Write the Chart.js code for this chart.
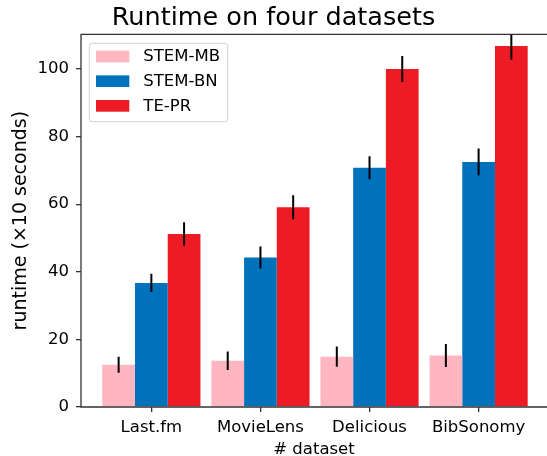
<!DOCTYPE html>
<html>
<head>
<meta charset="utf-8">
<script src="https://cdn.jsdelivr.net/npm/chart.js@4"></script>
<style>
  html, body { margin: 0; padding: 0; background: #fff; overflow: hidden; }
  canvas { display: block; }
</style>
</head>
<body>
<canvas id="runtimeChart" width="547" height="456"></canvas>
<script>
// data (runtime in units of 10 seconds)
const datasetNames = ['Last.fm', 'MovieLens', 'Delicious', 'BibSonomy'];
const seriesNames = ['STEM-MB', 'STEM-BN', 'TE-PR'];
const stemMB = [12.5, 13.7, 14.9, 15.2];
const stemBN = [36.7, 44.2, 70.8, 72.5];
const tePR = [51.2, 59.1, 100.0, 106.8];
const stemMBErr = [2.4, 2.75, 3.0, 3.4];
const stemBNErr = [2.7, 3.25, 3.4, 4.0];
const tePRErr = [3.45, 3.55, 3.85, 4.1];
const yTicks = [0, 20, 40, 60, 80, 100];

const seriesColors = ['#FFB6C1', '#0071BB', '#ED1C24'];
const FONT = "'DejaVu Sans', sans-serif";
const AXIS_COLOR = '#333';

const toPoints = (vals) => vals.map((v, i) => ({ x: i, y: v }));

// error bars drawn from each bar element, clipped to the plot box
const errorBarPlugin = {
    id: 'errorBars',
    afterDatasetsDraw(chart) {
        const errs = [stemMBErr, stemBNErr, tePRErr];
        const yScale = chart.scales.y;
        const area = chart.chartArea;
        const ctx = chart.ctx;
        ctx.save();
        ctx.beginPath();
        ctx.rect(area.left, area.top, area.right - area.left, area.bottom - area.top);
        ctx.clip();
        ctx.strokeStyle = '#000';
        ctx.lineWidth = 2;
        chart.data.datasets.forEach((ds, di) => {
            const meta = chart.getDatasetMeta(di);
            meta.data.forEach((bar, i) => {
                const v = ds.data[i].y;
                const e = errs[di][i];
                ctx.beginPath();
                ctx.moveTo(bar.x, yScale.getPixelForValue(v + e));
                ctx.lineTo(bar.x, yScale.getPixelForValue(v - e));
                ctx.stroke();
            });
        });
        ctx.restore();
    }
};

// spines (the right one falls just outside the picture) + legend box
const frameLegendPlugin = {
    id: 'frameLegend',
    afterDraw(chart) {
        const ctx = chart.ctx;
        const a = chart.chartArea;
        ctx.save();
        ctx.strokeStyle = AXIS_COLOR;
        ctx.lineWidth = 1.3;
        ctx.beginPath();
        ctx.moveTo(chart.width, a.top);
        ctx.lineTo(a.left, a.top);
        ctx.lineTo(a.left, a.bottom);
        ctx.lineTo(chart.width, a.bottom);
        ctx.stroke();

        // legend
        const lx = a.left + 8.3, ly = a.top + 9, lw = 138.4, lh = 78.4;
        ctx.beginPath();
        ctx.roundRect(lx, ly, lw, lh, 3);
        ctx.fillStyle = 'rgba(255,255,255,0.8)';
        ctx.fill();
        ctx.strokeStyle = '#d0d0d0';
        ctx.lineWidth = 1;
        ctx.stroke();

        ctx.font = '16.5px ' + FONT;
        ctx.textBaseline = 'middle';
        ctx.textAlign = 'left';
        chart.data.datasets.forEach((ds, i) => {
            const cy = ly + 13.2 + i * 24.65;
            ctx.fillStyle = ds.backgroundColor;
            ctx.fillRect(lx + 6.7, cy - 5.8, 33.3, 11.7);
            ctx.fillStyle = '#000';
            ctx.fillText(ds.label, lx + 54, cy + 0.5);
        });
        ctx.restore();
    }
};

const ctx = document.getElementById('runtimeChart').getContext('2d');
new Chart(ctx, {
    type: 'bar',
    data: {
        datasets: [
            { label: seriesNames[0], data: toPoints(stemMB), backgroundColor: seriesColors[0] },
            { label: seriesNames[1], data: toPoints(stemBN), backgroundColor: seriesColors[1] },
            { label: seriesNames[2], data: toPoints(tePR), backgroundColor: seriesColors[2] }
        ]
    },
    options: {
        responsive: false,
        animation: false,
        categoryPercentage: 0.9,
        barPercentage: 1.0,
        layout: { padding: { left: 0, right: 0, top: 0, bottom: 0 } },
        plugins: {
            legend: { display: false },
            tooltip: { enabled: false },
            title: {
                display: true,
                text: 'Runtime on four datasets',
                color: '#000',
                font: { family: FONT, size: 25.5, weight: 'normal', lineHeight: 1.2 },
                padding: { top: 3.5, bottom: 0.2 }
            }
        },
        scales: {
            x: {
                type: 'linear',
                min: -0.645,
                max: 3.627,
                offset: false,
                afterFit: (scale) => { scale.height = 49; },
                afterBuildTicks: (scale) => {
                    scale.ticks = datasetNames.map((_, i) => ({ value: i }));
                },
                grid: { display: true, offset: false, drawOnChartArea: false, drawTicks: true, tickLength: 5, color: AXIS_COLOR, lineWidth: 1.3 },
                border: { display: false },
                ticks: {
                    autoSkip: false,
                    maxRotation: 0,
                    padding: 6,
                    color: '#000',
                    font: { family: FONT, size: 16.5 },
                    callback: (v) => datasetNames[v]
                },
                title: {
                    display: true,
                    text: '# dataset',
                    color: '#000',
                    font: { family: FONT, size: 16.5, lineHeight: 1 },
                    padding: { top: 0, bottom: -2 }
                }
            },
            y: {
                min: 0,
                max: 110.25,
                afterFit: (scale) => { scale.width = 81; },
                afterBuildTicks: (scale) => {
                    scale.ticks = yTicks.map((v) => ({ value: v }));
                },
                grid: { display: true, drawOnChartArea: false, drawTicks: true, tickLength: 5, color: AXIS_COLOR, lineWidth: 1.3 },
                border: { display: false },
                ticks: {
                    padding: 7,
                    color: '#000',
                    font: { family: FONT, size: 16.5 }
                },
                title: {
                    display: true,
                    text: 'runtime (×10 seconds)',
                    color: '#000',
                    font: { family: FONT, size: 19, lineHeight: 1.2 },
                    padding: { top: 9.5, bottom: 0 }
                }
            }
        }
    },
    plugins: [errorBarPlugin, frameLegendPlugin]
});
</script>
</body>
</html>
